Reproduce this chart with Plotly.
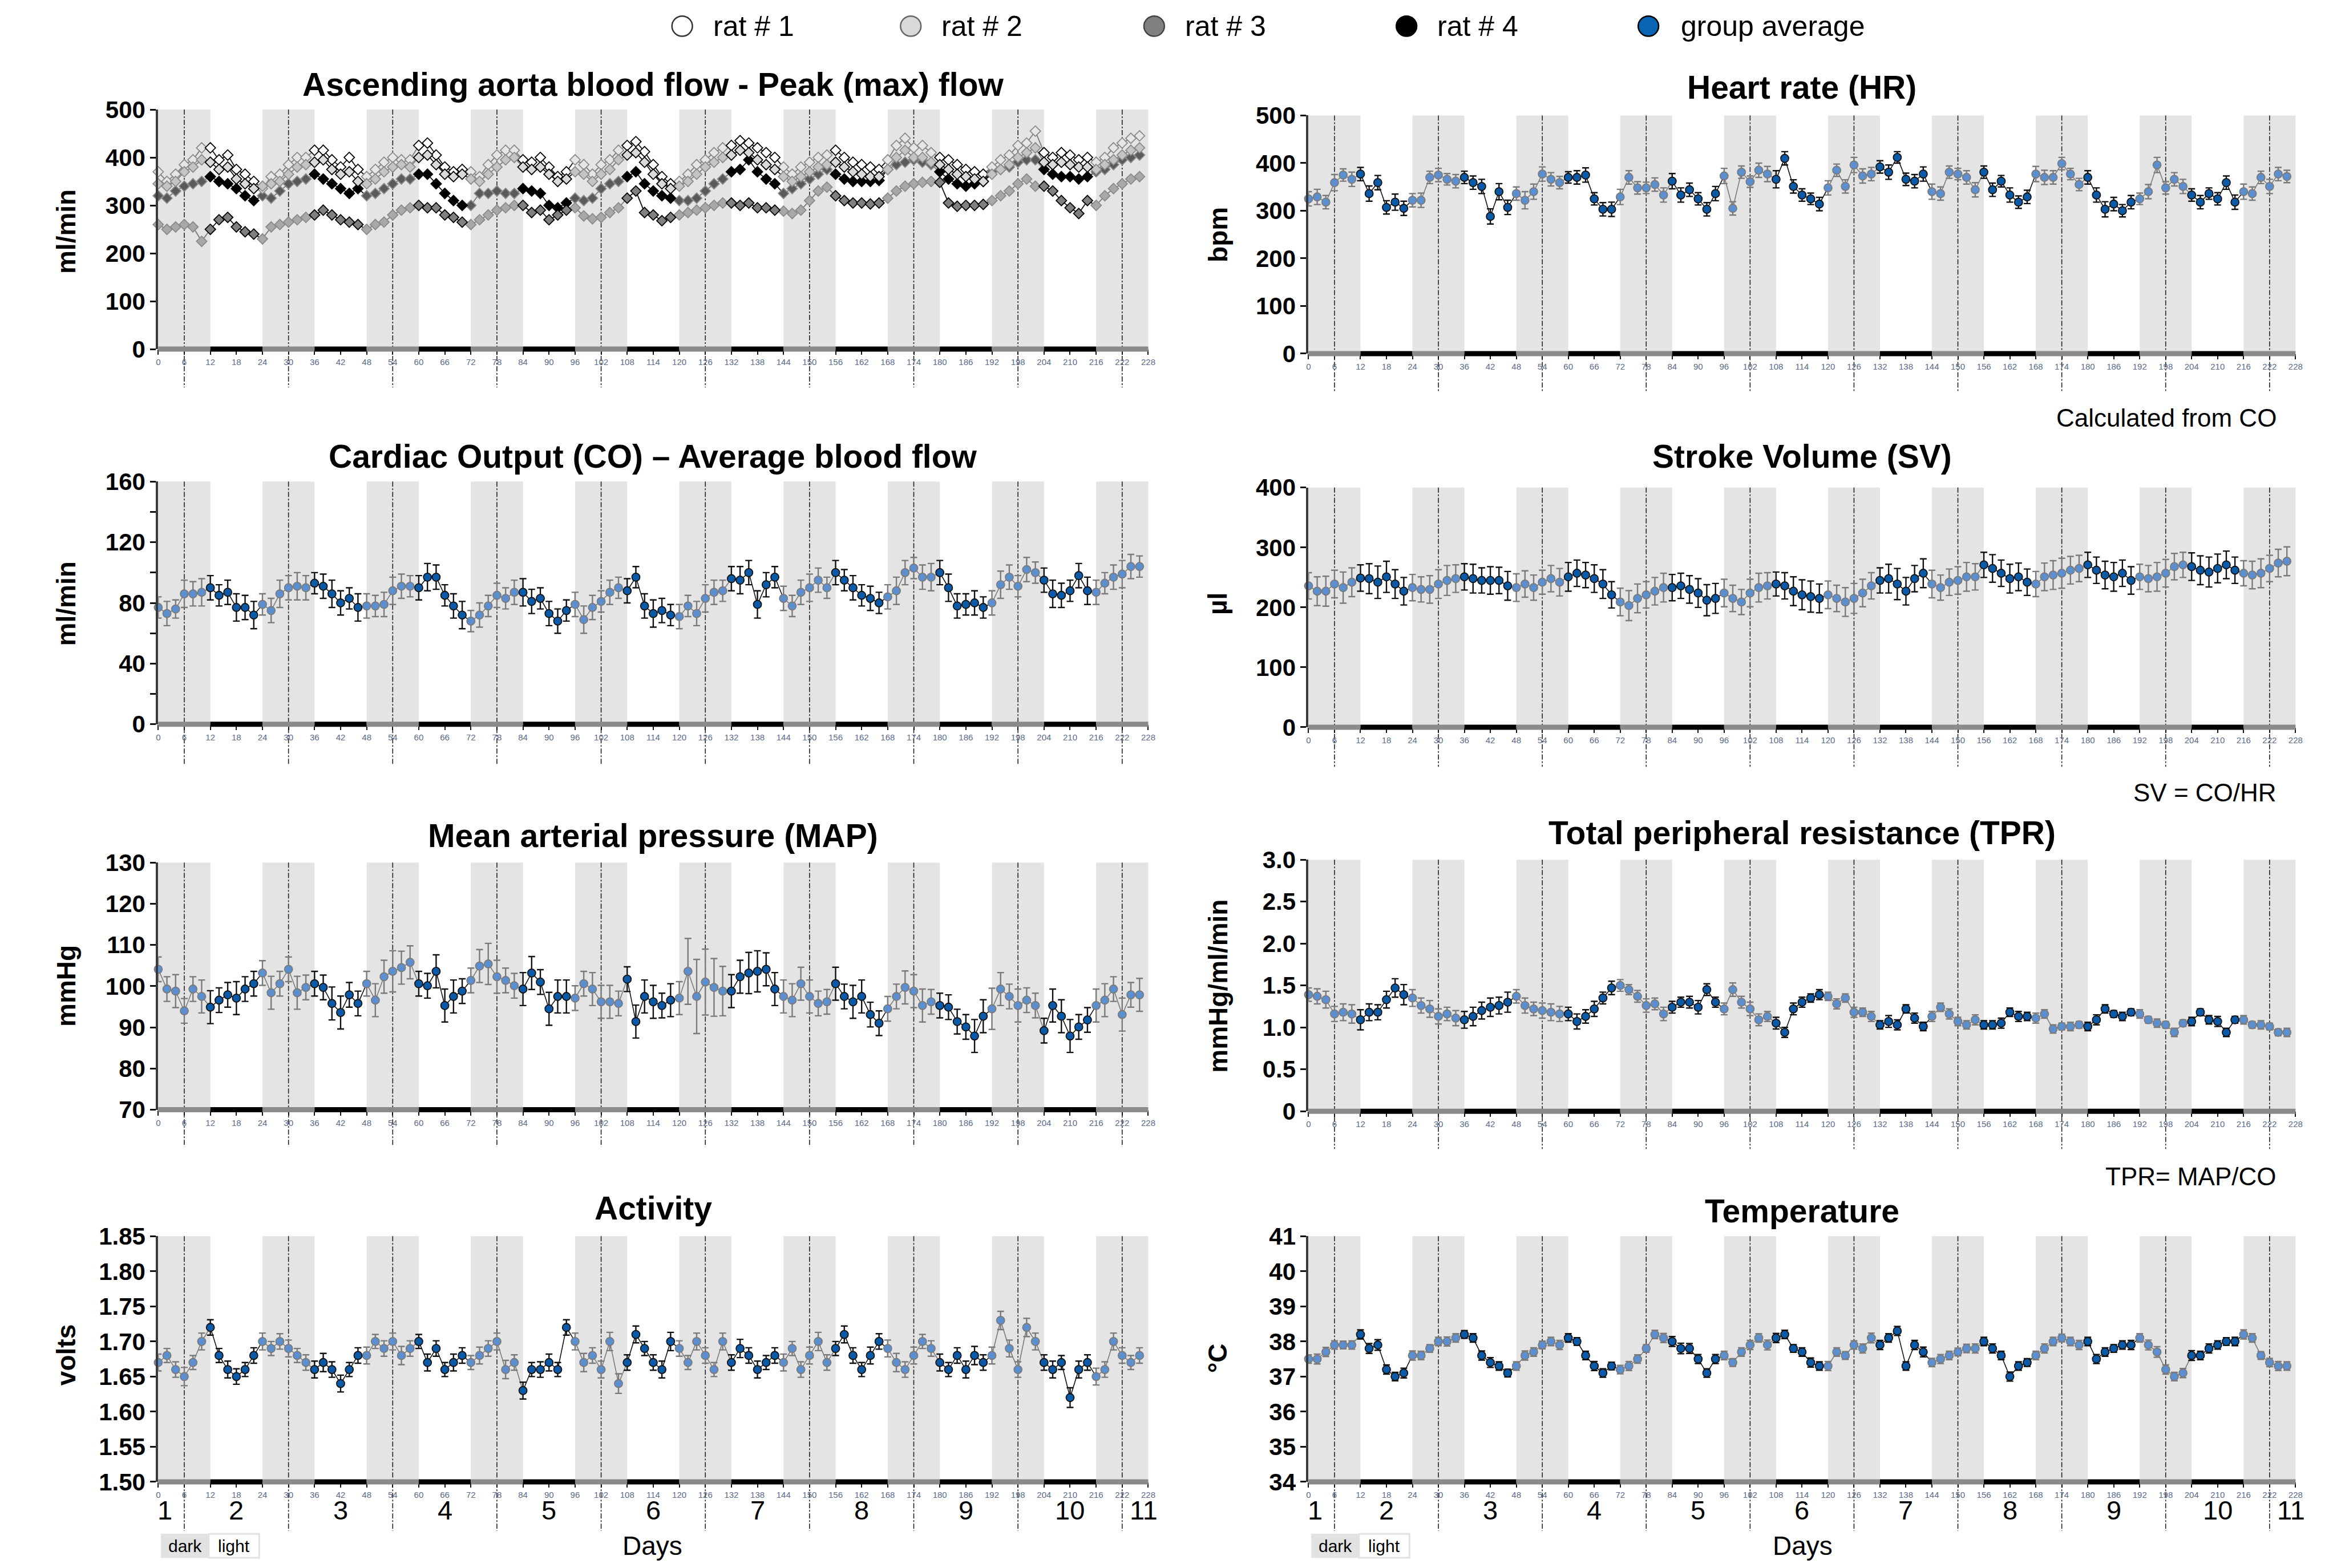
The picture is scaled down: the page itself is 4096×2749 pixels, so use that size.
import plotly.graph_objects as go

# ---------------- data ----------------
HOURS = list(range(0, 228, 2))          # sampling times (h), 0..226
X_MAX = 228
X_TICKS = list(range(0, 229, 6))
X_TICK_LABELS = [str(v) for v in X_TICKS]
DARK_STARTS = list(range(0, 228, 24))   # dark periods start (12 h long)
PERIOD = 12
DAY_LINES = list(range(6, 228, 24))
DAY_LABELS = ['1', '2', '3', '4', '5', '6', '7', '8', '9', '10', '11']
DAY_POS = [1.5, 18, 42, 66, 90, 114, 138, 162, 186, 210, 227]

RAT1 = [370,350,365,385,395,420,420,395,405,375,
        365,350,335,360,365,385,400,400,415,415,
        395,380,400,375,360,375,390,400,395,395,
        425,430,405,380,370,375,370,360,385,405,
        415,415,395,390,400,380,360,370,395,385,
        365,385,395,415,425,433,412,385,360,345,
        350,365,385,395,410,420,425,435,430,420,
        410,400,380,365,380,390,400,405,415,400,
        390,385,380,375,395,425,440,420,425,410,
        400,395,385,375,370,365,380,395,405,425,
        430,455,410,400,410,405,395,400,390,400,
        420,430,440,445]
RAT2 = [345,340,350,370,380,395,390,375,380,355,
        345,335,340,345,350,365,380,385,390,395,
        375,365,370,350,345,355,370,380,385,380,
        400,405,385,365,360,365,355,350,365,380,
        395,400,380,375,380,365,350,355,370,365,
        350,365,375,395,405,410,390,365,345,335,
        340,350,365,380,390,400,405,415,410,395,
        385,375,360,350,360,370,380,385,390,380,
        370,365,360,360,375,400,415,400,400,390,
        385,375,365,360,355,350,365,375,385,400,
        410,420,390,385,390,385,380,380,375,385,
        395,405,415,420]
RAT3 = [260,250,255,260,255,225,250,270,275,255,
        245,240,230,255,260,265,270,275,280,290,
        280,270,265,260,250,260,265,280,290,295,
        300,295,295,280,275,265,260,270,280,290,
        295,300,300,285,290,270,280,290,295,278,
        272,275,285,295,315,330,285,280,268,275,
        280,285,290,295,300,305,305,300,305,295,
        295,290,288,283,290,310,330,338,320,310,
        305,305,303,305,315,330,340,345,348,350,
        348,305,298,300,300,302,310,320,330,345,
        355,340,340,330,310,295,283,310,300,320,
        335,345,355,360]
RAT4 = [320,315,330,340,345,350,360,350,345,335,
        320,310,320,315,330,345,350,355,365,355,
        345,335,325,335,320,325,335,345,355,355,
        365,365,345,325,310,300,300,325,325,330,
        325,325,335,330,325,300,295,305,315,310,
        315,335,345,350,360,370,345,330,320,315,
        310,310,315,330,345,355,370,375,395,370,
        355,345,325,335,345,355,365,375,365,355,
        350,350,350,352,375,385,390,395,390,385,
        370,355,345,340,345,350,370,375,380,390,
        395,395,375,365,360,360,355,360,370,375,
        385,395,400,405]

HR = [325,329,318,359,375,366,377,336,359,307,
      318,305,322,322,370,375,366,362,370,359,
      351,288,340,307,336,322,340,377,366,359,
      370,370,375,325,303,303,329,370,348,348,
      355,333,362,333,344,325,303,336,373,305,
      381,361,385,377,366,410,351,333,325,314,
      348,385,351,396,373,377,392,381,412,366,
      362,377,340,336,381,377,370,344,381,344,
      362,333,318,329,377,370,370,399,377,355,
      370,333,303,314,300,318,325,340,396,348,
      366,351,333,318,336,325,359,318,340,336,
      370,351,377,372]
HR_ERR = [15,16,14,17,13,15,14,16,15,14,
          17,15,14,15,13,14,12,14,13,14,
          15,16,17,15,14,18,16,15,14,13,
          12,14,15,13,14,15,16,14,13,12,
          14,15,16,15,14,13,14,15,16,14,
          13,12,15,16,18,14,14,13,12,14,
          15,13,14,16,15,14,13,15,12,13,
          14,15,16,14,13,12,14,15,13,14,
          12,15,13,14,16,15,14,13,12,13,
          14,15,16,14,13,14,12,15,16,13,
          14,15,13,14,12,13,14,15,16,14,
          13,15,14,13]

CO = [77,73,76,86,86,87,90,85,87,77,
      77,72,79,75,86,90,91,90,93,91,
      86,80,83,77,78,78,79,88,91,91,
      90,97,97,85,78,72,68,72,78,85,
      83,87,87,81,83,73,68,75,79,69,
      77,81,87,90,88,97,78,73,75,72,
      71,78,73,83,87,88,96,95,100,79,
      92,97,83,78,87,90,95,90,100,95,
      90,85,83,80,84,88,100,103,97,97,
      100,90,78,79,80,77,80,92,97,91,
      102,100,95,86,85,88,98,88,87,93,
      97,99,104,104]
CO_ERR = [7,8,6,9,8,9,8,7,8,9,
          8,9,7,8,9,8,9,8,7,8,
          9,8,7,9,8,7,8,9,8,7,
          8,9,8,7,8,9,7,8,7,8,
          7,8,9,8,7,8,8,7,8,9,
          8,7,8,7,8,7,8,9,8,7,
          8,7,8,9,8,7,8,9,8,9,
          8,7,8,7,8,9,8,7,8,7,
          8,7,8,7,8,9,8,7,8,9,
          8,9,8,7,8,7,8,9,8,7,
          8,7,8,9,8,7,8,9,8,7,
          8,9,8,7]

SV = [236,227,227,239,233,242,249,248,242,251,
      239,227,233,230,230,239,245,248,251,248,
      245,245,245,236,233,239,233,242,248,242,
      251,257,254,248,239,221,209,203,215,221,
      227,233,233,236,230,224,212,215,224,215,
      209,224,233,236,239,236,227,221,218,215,
      221,215,209,215,224,236,245,248,239,227,
      248,257,239,233,242,245,251,251,271,265,
      257,248,251,242,239,251,254,257,262,265,
      271,262,254,251,257,245,251,248,251,257,
      268,271,268,262,259,265,271,262,257,254,
      257,265,274,277]
SV_ERR = [22,24,25,23,26,24,22,25,27,26,
          24,23,22,21,23,24,25,23,22,24,
          21,23,22,24,23,22,21,20,22,23,
          24,22,21,23,24,22,23,25,24,22,
          23,24,22,21,23,24,26,25,23,22,
          21,23,24,22,20,22,24,25,26,24,
          23,22,24,25,23,22,21,24,26,23,
          22,24,23,21,22,23,24,22,21,23,
          22,24,23,22,21,23,24,25,23,22,
          21,22,23,24,22,23,21,22,24,23,
          22,21,23,24,25,24,23,22,21,23,
          24,22,23,24]

MAP = [104.1,99.3,98.8,94.0,99.3,97.5,94.9,96.6,97.9,97.1,
       99.3,100.6,103.2,98.4,100.6,104.1,98.4,99.7,100.6,99.7,
       95.8,93.6,97.9,95.8,100.6,96.6,102.3,103.6,104.5,105.8,
       100.6,100.1,103.6,95.3,97.5,98.8,101.4,104.9,105.4,102.3,
       101.4,100.1,99.3,103.2,101.0,94.5,97.5,97.5,97.1,100.6,
       99.3,96.2,96.2,95.8,101.7,91.4,97.5,96.2,95.3,96.6,
       97.1,103.6,97.5,101.0,99.7,98.8,98.8,102.3,103.2,103.6,
       104.1,99.3,97.5,96.6,100.6,97.5,95.8,96.2,100.6,97.5,
       96.2,97.5,93.1,91.0,94.5,97.5,99.7,98.8,95.3,96.2,
       95.3,94.9,91.4,90.1,87.9,92.7,94.5,99.3,97.5,95.3,
       96.6,95.3,89.2,95.3,92.7,87.9,90.1,91.8,95.3,96.6,
       99.3,93.1,97.9,97.9]
MAP_ERR = [3,3,4,3,3,4,4,3,3,4,
           3,3,3,4,3,3,4,3,3,3,
           4,4,3,3,3,4,4,5,4,4,
           3,3,4,4,4,3,3,4,5,4,
           3,3,4,4,3,4,4,4,3,3,
           4,4,4,3,3,4,4,4,3,4,
           4,8,9,8,7,6,4,4,5,5,
           4,4,4,4,4,4,3,3,4,3,
           4,4,3,3,3,3,4,4,4,3,
           3,3,3,3,4,4,5,4,3,4,
           3,3,3,4,4,4,3,3,4,4,
           3,4,3,4]

TPR = [1.39,1.37,1.33,1.16,1.18,1.16,1.09,1.18,1.18,1.33,
       1.47,1.39,1.35,1.26,1.22,1.13,1.16,1.11,1.09,1.13,
       1.20,1.24,1.26,1.30,1.37,1.26,1.22,1.20,1.18,1.16,
       1.16,1.07,1.13,1.22,1.35,1.47,1.50,1.45,1.37,1.26,
       1.28,1.16,1.24,1.30,1.30,1.24,1.45,1.30,1.22,1.45,
       1.30,1.22,1.09,1.13,1.05,0.94,1.22,1.30,1.35,1.39,
       1.37,1.28,1.35,1.18,1.18,1.13,1.03,1.07,1.03,1.22,
       1.11,1.01,1.13,1.24,1.16,1.07,1.03,1.09,1.03,1.03,
       1.05,1.18,1.13,1.13,1.11,1.16,0.98,1.01,1.01,1.03,
       1.01,1.09,1.22,1.16,1.13,1.18,1.16,1.09,1.05,1.03,
       0.94,1.05,1.07,1.18,1.09,1.07,0.94,1.09,1.09,1.03,
       1.03,1.01,0.94,0.94]
TPR_ERR = [0.08,0.09,0.10,0.09,0.10,0.11,0.12,0.10,0.09,0.10,
           0.11,0.12,0.10,0.09,0.10,0.09,0.08,0.09,0.10,0.11,
           0.10,0.11,0.10,0.12,0.08,0.09,0.08,0.09,0.10,0.09,
           0.08,0.09,0.08,0.09,0.07,0.08,0.07,0.06,0.07,0.08,
           0.07,0.08,0.07,0.06,0.07,0.08,0.07,0.06,0.07,0.08,
           0.07,0.08,0.07,0.06,0.07,0.06,0.07,0.06,0.05,0.06,
           0.05,0.06,0.05,0.06,0.05,0.06,0.05,0.07,0.06,0.05,
           0.06,0.05,0.06,0.05,0.06,0.05,0.05,0.06,0.05,0.05,
           0.06,0.05,0.06,0.05,0.06,0.05,0.05,0.04,0.05,0.04,
           0.05,0.06,0.05,0.04,0.05,0.04,0.05,0.04,0.05,0.04,
           0.05,0.04,0.05,0.04,0.05,0.06,0.05,0.04,0.05,0.04,
           0.05,0.04,0.04,0.05]

ACT = [1.67,1.68,1.66,1.65,1.67,1.70,1.72,1.68,1.66,1.65,
       1.66,1.68,1.70,1.69,1.70,1.69,1.68,1.67,1.66,1.67,
       1.66,1.64,1.66,1.68,1.68,1.70,1.69,1.70,1.68,1.69,
       1.70,1.67,1.69,1.66,1.67,1.68,1.67,1.68,1.69,1.70,
       1.66,1.67,1.63,1.66,1.66,1.67,1.66,1.72,1.70,1.67,
       1.68,1.66,1.70,1.64,1.67,1.71,1.69,1.67,1.66,1.70,
       1.69,1.67,1.70,1.68,1.66,1.70,1.67,1.69,1.68,1.66,
       1.67,1.68,1.67,1.69,1.66,1.68,1.70,1.67,1.69,1.71,
       1.68,1.66,1.68,1.70,1.69,1.67,1.66,1.68,1.70,1.69,
       1.67,1.66,1.68,1.66,1.68,1.67,1.68,1.73,1.69,1.66,
       1.72,1.70,1.67,1.66,1.67,1.62,1.66,1.67,1.65,1.66,
       1.70,1.68,1.67,1.68]
ACT_ERR = [0.012,0.010,0.011,0.013,0.010,0.012,0.011,0.010,0.012,0.011,
           0.010,0.011,0.012,0.010,0.011,0.012,0.010,0.011,0.012,0.013,
           0.011,0.012,0.010,0.011,0.012,0.010,0.011,0.012,0.013,0.011,
           0.010,0.012,0.011,0.010,0.012,0.011,0.010,0.012,0.011,0.012,
           0.013,0.011,0.012,0.010,0.011,0.012,0.010,0.011,0.012,0.013,
           0.011,0.012,0.013,0.014,0.011,0.012,0.010,0.011,0.012,0.013,
           0.011,0.010,0.012,0.011,0.010,0.012,0.011,0.013,0.011,0.012,
           0.010,0.011,0.012,0.010,0.011,0.012,0.013,0.011,0.010,0.012,
           0.011,0.010,0.012,0.011,0.012,0.013,0.011,0.012,0.010,0.011,
           0.012,0.010,0.011,0.012,0.013,0.011,0.012,0.013,0.012,0.011,
           0.013,0.012,0.011,0.012,0.010,0.014,0.012,0.011,0.012,0.011,
           0.012,0.011,0.010,0.011]

TEMP = [37.5,37.5,37.7,37.9,37.9,37.9,38.2,37.8,37.9,37.2,
        37.0,37.1,37.6,37.6,37.8,38.0,38.0,38.1,38.2,38.1,
        37.6,37.4,37.3,37.1,37.3,37.6,37.7,37.9,38.0,37.9,
        38.1,38.0,37.6,37.3,37.1,37.3,37.2,37.3,37.5,37.8,
        38.2,38.1,38.0,37.8,37.8,37.5,37.1,37.5,37.6,37.4,
        37.7,37.9,38.1,37.9,38.1,38.2,37.8,37.7,37.4,37.3,
        37.3,37.7,37.6,37.9,37.8,38.1,37.9,38.1,38.3,37.3,
        37.9,37.7,37.4,37.5,37.6,37.7,37.8,37.8,38.0,37.8,
        37.6,37.0,37.3,37.4,37.6,37.8,38.0,38.1,38.0,37.9,
        38.0,37.5,37.7,37.8,37.9,37.9,38.1,37.9,37.7,37.2,
        37.0,37.1,37.6,37.6,37.8,37.9,38.0,38.0,38.2,38.1,
        37.6,37.4,37.3,37.3]
TEMP_ERR = [0.12,0.14,0.13,0.12,0.11,0.12,0.13,0.14,0.15,0.13,
            0.12,0.14,0.13,0.12,0.11,0.12,0.13,0.12,0.11,0.12,
            0.13,0.14,0.12,0.11,0.12,0.13,0.12,0.11,0.12,0.13,
            0.12,0.11,0.12,0.13,0.12,0.11,0.12,0.13,0.12,0.11,
            0.12,0.13,0.14,0.15,0.14,0.13,0.12,0.13,0.12,0.11,
            0.12,0.13,0.12,0.14,0.13,0.12,0.11,0.12,0.13,0.12,
            0.13,0.12,0.11,0.12,0.13,0.14,0.13,0.12,0.13,0.12,
            0.13,0.14,0.12,0.13,0.12,0.11,0.12,0.13,0.12,0.13,
            0.12,0.13,0.12,0.11,0.12,0.13,0.12,0.11,0.12,0.13,
            0.12,0.13,0.12,0.11,0.12,0.13,0.12,0.14,0.15,0.13,
            0.12,0.13,0.14,0.12,0.13,0.12,0.11,0.12,0.13,0.12,
            0.11,0.12,0.13,0.12]

for arr in [RAT1, RAT2, RAT3, RAT4, HR, HR_ERR, CO, CO_ERR, SV, SV_ERR, MAP, MAP_ERR,
            TPR, TPR_ERR, ACT, ACT_ERR, TEMP, TEMP_ERR]:
    assert len(arr) == len(HOURS), len(arr)

TITLES = ['Ascending aorta blood flow - Peak (max) flow', 'Heart rate (HR)',
          'Cardiac Output (CO) \u2013 Average blood flow', 'Stroke Volume (SV)',
          'Mean arterial pressure (MAP)', 'Total peripheral resistance (TPR)',
          'Activity', 'Temperature']
YLABELS = ['ml/min', 'bpm', 'ml/min', '\u00b5l', 'mmHg', 'mmHg/ml/min', 'volts', '\u00b0C']
Y_TICKS = [[0, 100, 200, 300, 400, 500],
           [0, 100, 200, 300, 400, 500],
           [0, 20, 40, 60, 80, 100, 120, 140, 160],
           [0, 100, 200, 300, 400],
           [70, 80, 90, 100, 110, 120, 130],
           [0, 0.5, 1.0, 1.5, 2.0, 2.5, 3.0],
           [1.50, 1.55, 1.60, 1.65, 1.70, 1.75, 1.80, 1.85],
           [34, 35, 36, 37, 38, 39, 40, 41]]
Y_TICK_TEXT = [['0', '100', '200', '300', '400', '500'],
               ['0', '100', '200', '300', '400', '500'],
               ['0', '', '40', '', '80', '', '120', '', '160'],
               ['0', '100', '200', '300', '400'],
               ['70', '80', '90', '100', '110', '120', '130'],
               ['0', '0.5', '1.0', '1.5', '2.0', '2.5', '3.0'],
               ['1.50', '1.55', '1.60', '1.65', '1.70', '1.75', '1.80', '1.85'],
               ['34', '35', '36', '37', '38', '39', '40', '41']]
NOTES = [(1, 'Calculated from CO'), (3, 'SV = CO/HR'), (5, 'TPR= MAP/CO')]
LEGEND_LABELS = ['rat # 1', 'rat # 2', 'rat # 3', 'rat # 4', 'group average']

# ---------------- layout geometry ----------------
W, H = 4096, 2749
SX, SY = 1568.0, 1052.0


def PY(r):
    # vertical position (reference px, 1052 high) -> paper fraction
    return 1 - ((r - 11.3) / 0.9843) / SY


XL = [102 / SX, 769 / SX]
XR = [877 / SX, 1542 / SX]
X_DOMS = [XL, XR] * 4
Y_PIX = [(234, 73), (237, 77), (486, 323), (488, 327),
         (745, 579), (746, 577), (995, 830), (995, 830)]
Y_DOMS = [[PY(b), PY(t)] for b, t in Y_PIX]
TITLE_Y = [56, 58, 306, 306, 561, 559, 811, 813]
YLAB_X = [40, 816] * 4
YLAB_Y = [155, 157, 405, 405, 662, 662, 910, 912]
NOTE_Y = {1: 280, 3: 532, 5: 790}
DOT_EXT = [0.16, 0.16, 0.165, 0.165, 0.15, 0.15, 0.2, 0.2]

FONT = 'Liberation Sans, Arial, Helvetica, sans-serif'

DARK_LINE = '#7a7a7a'
LIGHT_LINE = '#111111'
GA_DARK_FILL = '#5b8fcf'
GA_LIGHT_FILL = '#0b5aa8'
RAT_LIGHT_FILL = ['#ffffff', '#d9d9d9', '#808080', '#000000']
RAT_DARK_FILL = ['#e6e6e6', '#c4c4c4', '#a8a8a8', '#5a5a5a']
LEG_FILL = ['#ffffff', '#d9d9d9', '#808080', '#000000', '#0a64b4']
LEG_LINE = ['#333333', '#666666', '#444444', '#000000', '#000000']


def ax(k):
    return '' if k == 1 else str(k)


def is_dark(h):
    return (h % 24) < PERIOD


def phase_runs(xs, ys, dark):
    X, Y = [], []
    n = len(xs)
    i = 0
    while i < n:
        if is_dark(xs[i]) == dark:
            j = i
            while j < n and is_dark(xs[j]) == dark:
                j += 1
            end = min(j, n - 1)
            X += xs[i:end + 1] + [None]
            Y += ys[i:end + 1] + [None]
            i = j
        else:
            i += 1
    return X, Y


def pick(xs, vals, dark):
    return [v for x, v in zip(xs, vals) if is_dark(x) == dark]


fig = go.Figure()


def add_lines(k, ys, width=1.6):
    for dark in (True, False):
        lx, ly = phase_runs(HOURS, ys, dark)
        fig.add_trace(go.Scatter(x=lx, y=ly, mode='lines', xaxis='x' + ax(k), yaxis='y' + ax(k),
                                 line=dict(color=DARK_LINE if dark else LIGHT_LINE, width=width),
                                 hoverinfo='skip', showlegend=False, connectgaps=False))


def add_group(k, ys, err):
    add_lines(k, ys)
    for dark in (True, False):
        fig.add_trace(go.Scatter(
            x=pick(HOURS, HOURS, dark), y=pick(HOURS, ys, dark), mode='markers',
            xaxis='x' + ax(k), yaxis='y' + ax(k), cliponaxis=False,
            marker=dict(symbol='circle', size=14,
                        color=GA_DARK_FILL if dark else GA_LIGHT_FILL,
                        line=dict(color=DARK_LINE if dark else LIGHT_LINE, width=1.8)),
            error_y=dict(type='data', array=pick(HOURS, err, dark), visible=True,
                         color=DARK_LINE if dark else LIGHT_LINE, thickness=2.4, width=6),
            showlegend=False))


# rats panel (subplot 1)
RATS = [RAT1, RAT2, RAT3, RAT4]
for r in [3, 0, 1, 2]:
    add_lines(1, RATS[r], width=1.8)
for r in [3, 0, 1, 2]:
    for dark in (True, False):
        fig.add_trace(go.Scatter(
            x=pick(HOURS, HOURS, dark), y=pick(HOURS, RATS[r], dark), mode='markers',
            xaxis='x', yaxis='y', cliponaxis=False,
            marker=dict(symbol='diamond', size=14,
                        color=RAT_DARK_FILL[r] if dark else RAT_LIGHT_FILL[r],
                        line=dict(color='#8a8a8a' if dark else '#000000', width=1.8)),
            showlegend=False))

add_group(2, HR, HR_ERR)
add_group(3, CO, CO_ERR)
add_group(4, SV, SV_ERR)
add_group(5, MAP, MAP_ERR)
add_group(6, TPR, TPR_ERR)
add_group(7, ACT, ACT_ERR)
add_group(8, TEMP, TEMP_ERR)

layout = dict(width=W, height=H, margin=dict(l=0, r=0, t=0, b=0),
              paper_bgcolor='white', plot_bgcolor='white', showlegend=False,
              font=dict(family=FONT, color='black'))
shapes = []
annotations = []

for i in range(8):
    k = i + 1
    a = ax(k)
    layout['xaxis' + a] = dict(
        domain=X_DOMS[i], anchor='y' + a, range=[0, X_MAX],
        tickmode='array', tickvals=X_TICKS, ticktext=X_TICK_LABELS,
        tickfont=dict(size=15, color='#5a6a8a', family=FONT),
        ticks='outside', ticklen=9, tickwidth=2, tickcolor='#111',
        showline=False, showgrid=False, zeroline=False)
    layout['yaxis' + a] = dict(
        domain=Y_DOMS[i], anchor='x' + a,
        range=[Y_TICKS[i][0], Y_TICKS[i][-1]],
        tickmode='array', tickvals=Y_TICKS[i], ticktext=Y_TICK_TEXT[i],
        tickfont=dict(size=42, color='black', family=FONT, weight='bold'),
        ticks='outside', ticklen=10, tickwidth=3, tickcolor='#111',
        showline=True, linewidth=4, linecolor='#3a3a3a',
        showgrid=False, zeroline=False)
    xr = 'x%s domain' % a
    yr = 'y%s domain' % a
    for s in DARK_STARTS:
        shapes.append(dict(type='rect', xref=xr, yref=yr, x0=s / X_MAX, x1=(s + PERIOD) / X_MAX,
                           y0=0, y1=1, fillcolor='#e4e4e4', line=dict(width=0), layer='below'))
    for d in DAY_LINES:
        shapes.append(dict(type='line', xref=xr, yref=yr, x0=d / X_MAX, x1=d / X_MAX,
                           y0=1, y1=-DOT_EXT[i], line=dict(color='#222', width=1.6, dash='dashdot'),
                           layer='below'))
    for s in range(0, X_MAX, PERIOD):
        shapes.append(dict(type='line', xref=xr, yref=yr, x0=s / X_MAX, x1=(s + PERIOD) / X_MAX,
                           y0=0, y1=0, line=dict(color='#8a8a8a' if is_dark(s) else '#000000', width=9),
                           layer='above'))
    xc = (X_DOMS[i][0] + X_DOMS[i][1]) / 2
    annotations.append(dict(text='<b>%s</b>' % TITLES[i], xref='paper', yref='paper', x=xc,
                            y=PY(TITLE_Y[i]), xanchor='center', yanchor='middle',
                            showarrow=False, font=dict(size=57, family=FONT)))
    annotations.append(dict(text='<b>%s</b>' % YLABELS[i], xref='paper', yref='paper',
                            x=YLAB_X[i] / SX, y=PY(YLAB_Y[i]), textangle=-90,
                            xanchor='center', yanchor='middle', showarrow=False,
                            font=dict(size=46, family=FONT)))

for idx, txt in NOTES:
    annotations.append(dict(text=txt, xref='paper', yref='paper', x=1530 / SX,
                            y=PY(NOTE_Y[idx]), xanchor='right', yanchor='middle',
                            showarrow=False, font=dict(size=44, family=FONT)))

# day labels, "Days", dark/light key
for k, days_x, box_x in [(7, 435, 104), (8, 1210, 879)]:
    for lab, pos in zip(DAY_LABELS, DAY_POS):
        annotations.append(dict(text=lab, xref='x' + ax(k), yref='paper', x=pos, y=PY(1014),
                                xanchor='center', yanchor='middle', showarrow=False,
                                font=dict(size=47, family=FONT)))
    annotations.append(dict(text='Days', xref='paper', yref='paper', x=days_x / SX, y=PY(1038),
                            xanchor='center', yanchor='middle', showarrow=False,
                            font=dict(size=46, family=FONT)))
    x0 = box_x / SX
    xm = (box_x + 32) / SX
    x1 = (box_x + 66) / SX
    shapes.append(dict(type='rect', xref='paper', yref='paper', x0=x0, x1=xm,
                       y0=PY(1046), y1=PY(1030), fillcolor='#e2e2e2',
                       line=dict(color='#e2e2e2', width=1)))
    shapes.append(dict(type='rect', xref='paper', yref='paper', x0=xm, x1=x1,
                       y0=PY(1046), y1=PY(1030), fillcolor='white',
                       line=dict(color='#e2e2e2', width=3)))
    annotations.append(dict(text='dark', xref='paper', yref='paper', x=(x0 + xm) / 2,
                            y=PY(1038), xanchor='center', yanchor='middle', showarrow=False,
                            font=dict(size=30, family=FONT)))
    annotations.append(dict(text='light', xref='paper', yref='paper', x=(xm + x1) / 2,
                            y=PY(1038), xanchor='center', yanchor='middle', showarrow=False,
                            font=dict(size=30, family=FONT)))

# legend
LEG_MX = [455, 609, 773, 943, 1106]
LEG_TX = [475, 629, 793, 963, 1127]
ly = PY(17)
rx, ry = 18.0 / W, 18.0 / H
for j, lab in enumerate(LEGEND_LABELS):
    cx = LEG_MX[j] / SX
    shapes.append(dict(type='circle', xref='paper', yref='paper', x0=cx - rx, x1=cx + rx,
                       y0=ly - ry, y1=ly + ry, fillcolor=LEG_FILL[j],
                       line=dict(color=LEG_LINE[j], width=2.5)))
    annotations.append(dict(text=lab, xref='paper', yref='paper', x=LEG_TX[j] / SX, y=ly,
                            xanchor='left', yanchor='middle', showarrow=False,
                            font=dict(size=50, family=FONT)))

layout['shapes'] = shapes
layout['annotations'] = annotations
fig.update_layout(**layout)
fig.write_html('out.html')
